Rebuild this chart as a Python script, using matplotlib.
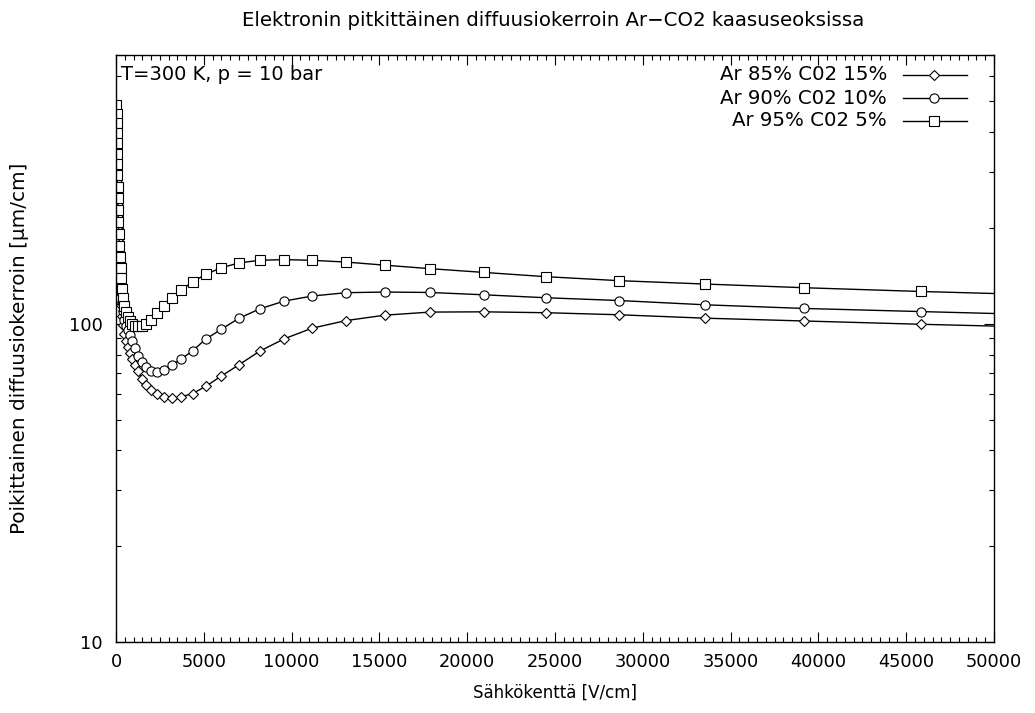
import matplotlib
matplotlib.use("Agg")
import matplotlib.pyplot as plt
from matplotlib.ticker import MultipleLocator, LogLocator, NullFormatter, FixedLocator
from matplotlib.lines import Line2D

plt.rcParams['font.family'] = ['DejaVu Sans']

# ---- data ----
field = [25, 29, 34, 39, 46, 54, 63, 74, 86, 101, 118, 138, 161, 189, 221, 258, 302, 354,
         414, 484, 567, 663, 776, 908, 1062, 1243, 1454, 1701, 1990, 2329, 2725, 3188,
         3730, 4364, 5105, 5973, 6989, 8177, 9567, 11162, 13098, 15319, 17882, 20957,
         24487, 28645, 33542, 39180, 45843, 53600]

d_ar85 = [455, 425, 395, 366, 338, 311, 286, 262, 240, 219, 200, 182, 165, 150, 137, 125,
          115, 106, 99, 93, 88.5, 84.5, 81, 77.5, 74.5, 71.2, 67.1, 64.2, 62.0, 60.1, 58.7,
          58.3, 59.0, 60.4, 63.6, 68.4, 74.3, 82.0, 89.7, 96.9, 102.4, 106.5, 108.9, 109.1,
          108.4, 106.8, 104.2, 102.1, 99.7, 97.3]

d_ar90 = [470, 440, 410, 382, 354, 327, 302, 278, 256, 235, 215, 196, 179, 163, 149, 137,
          126, 117, 109.5, 103, 98.5, 95.5, 92.5, 88.5, 83.8, 79.4, 75.7, 73.0, 71.3, 70.7,
          71.8, 74.3, 77.6, 82.3, 89.5, 96.0, 104.0, 111.4, 117.9, 122.3, 125.3, 125.9,
          125.5, 123.4, 120.8, 118.4, 114.8, 111.8, 109.3, 106.5]

d_ar95 = [487, 458, 428, 398, 370, 343, 318, 293, 270, 248, 228, 209, 192, 176, 162, 150,
          139, 129, 121, 114, 109, 105, 102, 100, 98.8, 98.2, 98.3, 99.8, 102.9, 108.3,
          114.2, 120.5, 128.1, 135.4, 143.1, 149.9, 155.4, 158.4, 159.2, 158.4, 156.4,
          152.9, 149.1, 145.1, 140.7, 136.7, 133.4, 129.9, 126.4, 123.0]

labels = ["Ar 85% C02 15%", "Ar 90% C02 10%", "Ar 95% C02 5%"]
markers = ["D", "o", "s"]
msizes = [4.6, 6.6, 6.6]
xticks = [0, 5000, 10000, 15000, 20000, 25000, 30000, 35000, 40000, 45000, 50000]

# ---- figure ----
fig = plt.figure(figsize=(10.35, 7.13), dpi=100)
ax = fig.add_axes([116 / 1035, 1 - 642 / 713, (994 - 116) / 1035, (642 - 55) / 713])

series = [d_ar85, d_ar90, d_ar95]
for ys, mk, ms in zip(series, markers, msizes):
    ax.plot(field, ys, color='black', lw=1.0, marker=mk, ms=ms, mfc='white',
            mec='black', mew=0.8, clip_on=True)

ax.set_yscale('log')
ax.set_xlim(0, 50000)
ax.set_ylim(10, 700)

ax.xaxis.set_major_locator(FixedLocator(xticks))
ax.xaxis.set_minor_locator(MultipleLocator(500))
ax.set_xticklabels([str(t) for t in xticks])
ax.yaxis.set_major_locator(FixedLocator([10, 100]))
ax.yaxis.set_minor_locator(LogLocator(base=10, subs=range(2, 10)))
ax.yaxis.set_minor_formatter(NullFormatter())
ax.set_yticklabels(["10", "100"])

ax.tick_params(which='both', direction='in', top=True, right=True, labelsize=12.8,
               width=0.8, colors='black')
ax.tick_params(which='major', length=7)
ax.tick_params(which='minor', length=3.5)
ax.tick_params(axis='x', which='major', pad=8)
ax.tick_params(axis='y', which='major', pad=9.5)
for s in ax.spines.values():
    s.set_linewidth(1.0)

ax.set_xlabel("Sähkökenttä [V/cm]", fontsize=12.0)
ax.xaxis.set_label_coords(0.5, -(684 - 642) / 587)
ax.set_ylabel("Poikittainen diffuusiokerroin [µm/cm]", fontsize=14.4)
ax.yaxis.set_label_coords(-(116 - 29) / 878, 0.5)
fig.text(553 / 1035, 1 - 21 / 713, "Elektronin pitkittäinen diffuusiokerroin Ar\u2212CO2 kaasuseoksissa",
         ha='center', va='center', fontsize=14.2)

fig.text(121 / 1035, 1 - 75 / 713, "T=300 K, p = 10 bar", ha='left', va='center', fontsize=14.0)

# legend, gnuplot style: right-aligned text then sample
rows_y = [75, 98, 121]
for lab, mk, ms, ry in zip(labels, markers, msizes, rows_y):
    yf = 1 - ry / 713
    fig.text(887 / 1035, yf, lab, ha='right', va='center', fontsize=14.2)
    fig.add_artist(Line2D([903 / 1035, 967 / 1035], [yf, yf], color='black', lw=1.0,
                          transform=fig.transFigure))
    fig.add_artist(Line2D([934 / 1035], [yf], marker=mk, ms=ms, mfc='white', mec='black',
                          mew=0.8, color='black', transform=fig.transFigure))

fig.savefig("out.png", dpi=100)
